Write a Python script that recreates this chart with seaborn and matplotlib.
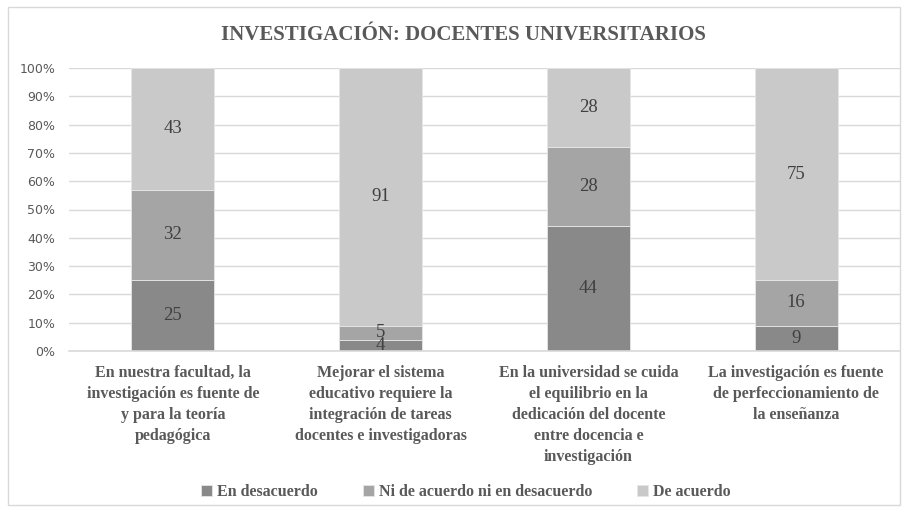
import matplotlib.pyplot as plt
from matplotlib.patches import Rectangle
from matplotlib.ticker import PercentFormatter
import numpy as np
import pandas as pd
import seaborn as sns

categories = [
    "En nuestra facultad, la\ninvestigación es fuente de\ny para la teoría\npedagógica",
    "Mejorar el sistema\neducativo requiere la\nintegración de tareas\ndocentes e investigadoras",
    "En la universidad se cuida\nel equilibrio en la\ndedicación del docente\nentre docencia e\ninvestigación",
    "La investigación es fuente\nde perfeccionamiento de\nla enseñanza",
]
series_names = ["En desacuerdo", "Ni de acuerdo ni en desacuerdo", "De acuerdo"]
desacuerdo = [25, 4, 44, 9]
neutral = [32, 5, 28, 16]
acuerdo = [43, 91, 28, 75]
colors = ["#898989", "#a5a5a5", "#c9c9c9"]

sns.set_theme(style="white")
plt.rcParams["font.family"] = ["Liberation Serif", "DejaVu Serif"]

fig = plt.figure(figsize=(9.08, 5.12), dpi=100)
ax = fig.add_axes([69 / 908, 1 - 351 / 512, 831 / 908, 283 / 512])

df = pd.DataFrame({"cat": categories, "d": desacuerdo, "n": neutral, "a": acuerdo})
totals = df[["d", "n", "a"]].sum(axis=1)
bottom = np.zeros(len(df))
for col, name, c in zip(["d", "n", "a"], series_names, colors):
    vals = df[col].to_numpy()
    share = vals / totals * 100
    sns.barplot(x=df["cat"], y=share, bottom=bottom, color=c, width=0.4,
                label=name, ax=ax, saturation=1, edgecolor="#e6e6e6", linewidth=0.6)
    bars = ax.containers[-1]
    ax.bar_label(bars, labels=[str(v) for v in vals], label_type="center",
                 fontsize=13.5, color="#404040")
    bottom = bottom + share

ax.set_ylim(0, 100)
ax.set_xlim(-0.5, 3.5)
ax.set_yticks(np.arange(0, 101, 10))
ax.yaxis.set_major_formatter(PercentFormatter(decimals=0))
ax.grid(axis="y", color="#d9d9d9", linewidth=1)
ax.set_axisbelow(True)
for s in ["top", "right", "left"]:
    ax.spines[s].set_visible(False)
ax.spines["bottom"].set_color("#d9d9d9")
ax.spines["bottom"].set_linewidth(1.2)
ax.set_xlabel("")
ax.set_ylabel("")
ax.tick_params(axis="y", length=0, pad=10, labelsize=9, labelcolor="#595959")
for t in ax.get_yticklabels():
    t.set_family(["DejaVu Sans"])
ax.tick_params(axis="x", length=0, pad=10)
ax.set_xticks(range(4))
ax.set_xticklabels(categories, fontsize=11.5, fontweight="bold", color="#595959",
                   linespacing=1.42, va="top")

fig.text(0.51, 1 - 35 / 512, "INVESTIGACIÓN: DOCENTES UNIVERSITARIOS",
         ha="center", va="center", fontsize=15, fontweight="bold", color="#595959")

leg = fig.legend(*ax.get_legend_handles_labels(), loc="center",
                 bbox_to_anchor=(0.513, 1 - 492 / 512), ncol=3, frameon=False,
                 prop={"size": 11.5, "weight": "bold"}, handlelength=0.7,
                 handleheight=0.7, handletextpad=0.3, columnspacing=2.8)
for t in leg.get_texts():
    t.set_color("#595959")
if ax.get_legend():
    ax.get_legend().remove()

fig.patches.append(Rectangle((8 / 908, 7 / 512), 892 / 908, 498 / 512,
                             transform=fig.transFigure, fill=False,
                             edgecolor="#d9d9d9", linewidth=1))

fig.savefig("out.png", dpi=100)
